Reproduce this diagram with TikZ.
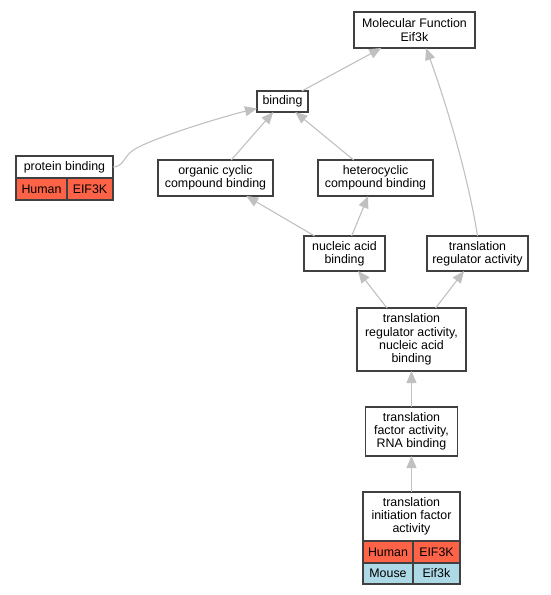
\documentclass[tikz,border=0pt]{standalone}
\usepackage{fontspec}
\setmainfont{Liberation Sans}
\usetikzlibrary{positioning, arrows.meta}
\definecolor{boxgray}{HTML}{404040}
\definecolor{edgegray}{HTML}{C0C0C0}
\definecolor{humanred}{HTML}{FF6347}
\definecolor{mouseblue}{HTML}{ADD8E6}

\begin{document}
\begin{tikzpicture}[
    % GLOBAL CFG
    x=1pt, y=1pt,
    font=\fontsize{12.4}{13.2}\selectfont,
    % Styles
    term/.style={% For the GO term boxes
        rectangle,
        draw=boxgray,
        line width=1.3pt,
        fill=white,
        align=center,
        inner sep=0pt,
        outer sep=0pt,
        },
    gcell/.style={% For the species / gene cells
        term,
        minimum height=22pt,
        },
    human/.style={gcell, fill=humanred},
    mouse/.style={gcell, fill=mouseblue},
    edge/.style={% is_a arrows, child to parent
        draw=edgegray,
        line width=1.1pt,
        -{Triangle[length=12pt, width=10pt]},
        },
    ]

    \useasboundingbox (0,0) rectangle (551,-595);

    % Draw the terms
    \node [term, minimum width=121, minimum height=36] (mf) at (414.5,-30) {Molecular Function\\Eif3k};
    \node [term, minimum width=51, minimum height=21] (bind) at (282.5,-101.5) {binding};
    \node [term, minimum width=97, minimum height=22] (prot) at (64.5,-167) {protein binding};
    \node [term, minimum width=115, minimum height=36] (orgc) at (215.5,-178) {organic cyclic\\compound binding};
    \node [term, minimum width=115, minimum height=36] (hetc) at (375.5,-178) {heterocyclic\\compound binding};
    \node [term, minimum width=81, minimum height=35] (nucl) at (344.5,-253.5) {nucleic acid\\binding};
    \node [term, minimum width=101, minimum height=35] (treg) at (477.5,-253.5) {translation\\regulator activity};
    \node [term, minimum width=109, minimum height=63] (tregn) at (411.5,-339.5) {translation\\regulator activity,\\nucleic acid\\binding};
    \node [term, minimum width=92, minimum height=49] (tfac) at (411.5,-431.5) {translation\\factor activity,\\RNA binding};
    \node [term, minimum width=97, minimum height=49] (tini) at (411.5,-516.5) {translation\\initiation factor\\activity};

    % Gene cells
    \node [human, minimum width=51, anchor=north west] (proth) at (prot.south west) {Human};
    \node [human, minimum width=46, anchor=north west] (protg) at (proth.north east) {EIF3K};
    \node [human, minimum width=50, anchor=north west] (tinih) at (tini.south west) {Human};
    \node [human, minimum width=47, anchor=north west] (tinig) at (tinih.north east) {EIF3K};
    \node [mouse, minimum width=50, minimum height=21, anchor=north west] (tinim) at (tinih.south west) {Mouse};
    \node [mouse, minimum width=47, minimum height=21, anchor=north west] (tinimg) at (tinim.north east) {Eif3k};

    % Connecting all
    \draw [edge] (bind) -- (mf);
    \draw [edge] (treg.north) .. controls +(-9.5,61) and +(19,-52) .. ([xshift=11.5]mf.south);
    \coordinate (protk) at (132,-151);
    \draw [edge] (prot.east) .. controls +(10,0) and (124,-157) .. (protk)
        .. controls +(16,12) and +(-30,-7) .. ([yshift=-7]bind.west);
    \draw [edge] (orgc) -- (bind);
    \draw [edge] (hetc) -- (bind);
    \draw [edge] (nucl) -- (orgc);
    \draw [edge] (nucl) -- (hetc);
    \draw [edge] (tregn) -- (nucl);
    \draw [edge] (tregn) -- (treg);
    \draw [edge] (tfac) -- (tregn);
    \draw [edge] (tini) -- (tfac);

\end{tikzpicture}
\end{document}
